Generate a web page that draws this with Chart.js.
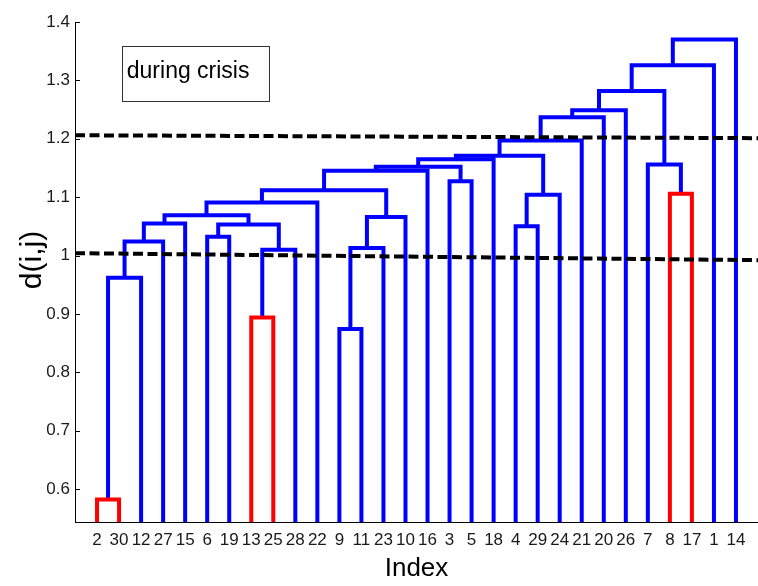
<!DOCTYPE html>
<html>
<head>
<meta charset="utf-8">
<script src="https://cdn.jsdelivr.net/npm/chart.js@4.4.1/dist/chart.umd.min.js"></script>
<style>
html,body{margin:0;padding:0;background:#ffffff;}
#wrap{position:relative;width:758px;height:586px;}
</style>
</head>
<body>
<div id="wrap"><canvas id="c" width="758" height="586"></canvas></div>
<script>
// ---- data ----
const leafLabels = [2,30,12,27,15,6,19,13,25,28,22,9,11,23,10,16,3,5,18,4,29,24,21,20,26,7,8,17,1,14];
const mergeLeft  = ['2','m1','m2','m3','6','13','m6','m5','m4','m9','9','m11','m12','m10','m14','3','m15','m17','4','m19','m18','m21','m22','m23','8','7','m24','m27','m28'];
const mergeRight = ['30','12','27','15','19','25','28','m7','m8','22','11','23','10','m13','16','5','m16','18','29','24','m20','21','20','26','17','m25','m26','1','14'];
const mergeHeight = [0.582,0.962,1.024,1.055,1.032,0.894,1.010,1.053,1.069,1.091,0.874,1.013,1.066,1.112,1.145,1.127,1.152,1.165,1.050,1.104,1.171,1.197,1.237,1.249,1.106,1.156,1.282,1.326,1.370];
const redMerges = ['m1','m6','m25'];
const cutX = [0, 31];
const cutUpperY = [1.206, 1.201];
const cutLowerY = [1.004, 0.992];
const yTickValues = [0.6,0.7,0.8,0.9,1.0,1.1,1.2,1.3,1.4];
const yTickLabels = ['0.6','0.7','0.8','0.9','1','1.1','1.2','1.3','1.4'];
const yRange = [0.5435, 1.4];
const xRange = [0, 31];
const boxText = 'during crisis';
const boxX = [2.13, 8.8];
const boxY = [1.265, 1.359];
const boxTextPos = [2.35, 1.304];

const FONT = "'Liberation Sans Narrow', 'Liberation Sans', Arial, sans-serif";

// ---- build dendrogram segments ----
const pos = {};
leafLabels.forEach((l, i) => { pos[String(l)] = {x: i + 1, y: 0}; });
const datasets = [];
mergeHeight.forEach((h, k) => {
  const L = pos[mergeLeft[k]], R = pos[mergeRight[k]];
  const id = 'm' + (k + 1);
  datasets.push({
    data: [{x: L.x, y: L.y}, {x: L.x, y: h}, {x: R.x, y: h}, {x: R.x, y: R.y}],
    borderColor: redMerges.includes(id) ? '#ff0000' : '#0000ff',
    borderWidth: 4,
    borderJoinStyle: 'miter',
    borderCapStyle: 'butt',
    pointRadius: 0,
    showLine: true,
    fill: false,
    tension: 0,
    clip: 0,
    order: 2
  });
  pos[id] = {x: (L.x + R.x) / 2, y: h};
});
[cutUpperY, cutLowerY].forEach(ys => {
  datasets.push({
    data: cutX.map((x, i) => ({x: x, y: ys[i]})),
    borderColor: '#000000',
    borderWidth: 4,
    borderDash: [10, 4.5],
    borderCapStyle: 'butt',
    pointRadius: 0,
    showLine: true,
    fill: false,
    clip: 0,
    order: 0
  });
});

const extras = {
  id: 'extras',
  afterDraw(chart) {
    const ctx = chart.ctx, xs = chart.scales.x, ys = chart.scales.y, ca = chart.chartArea;
    ctx.save();
    // inward y ticks
    ctx.strokeStyle = '#000'; ctx.lineWidth = 1;
    yTickValues.forEach(v => {
      const y = Math.round(ys.getPixelForValue(v)) + 0.5;
      ctx.beginPath(); ctx.moveTo(ca.left, y); ctx.lineTo(ca.left + 5, y); ctx.stroke();
    });
    // text box
    const x1 = Math.round(xs.getPixelForValue(boxX[0])) + 0.5, x2 = Math.round(xs.getPixelForValue(boxX[1])) + 0.5;
    const y1 = Math.round(ys.getPixelForValue(boxY[1])) + 0.5, y2 = Math.round(ys.getPixelForValue(boxY[0])) + 0.5;
    ctx.fillStyle = '#fff'; ctx.fillRect(x1, y1, x2 - x1, y2 - y1);
    ctx.strokeStyle = '#333'; ctx.lineWidth = 1; ctx.strokeRect(x1, y1, x2 - x1, y2 - y1);
    ctx.fillStyle = '#000'; ctx.font = "23px " + FONT; ctx.textBaseline = 'alphabetic'; ctx.textAlign = 'left';
    ctx.fillText(boxText, xs.getPixelForValue(boxTextPos[0]), ys.getPixelForValue(boxTextPos[1]));
    // y axis title
    ctx.translate(33, 260); ctx.rotate(-Math.PI / 2);
    ctx.font = "30px 'Liberation Sans', Arial, sans-serif"; ctx.textAlign = 'center'; ctx.textBaseline = 'middle';
    ctx.fillText('d(i,j)', 0, 0);
    ctx.restore();
  }
};

new Chart(document.getElementById('c'), {
  type: 'scatter',
  data: {datasets},
  options: {
    responsive: false,
    animation: false,
    events: [],
    layout: {padding: {top: 22, left: 0, right: 0, bottom: 0}},
    plugins: {legend: {display: false}, tooltip: {enabled: false}, title: {display: false}},
    scales: {
      x: {
        type: 'linear', min: xRange[0], max: xRange[1],
        afterFit: s => { s.height = 64; },
        afterBuildTicks: s => { s.ticks = leafLabels.map((_, i) => ({value: i + 1})); },
        grid: {display: false, drawTicks: false},
        border: {display: true, color: '#000', width: 1},
        ticks: {autoSkip: false, maxRotation: 0, padding: 8, color: '#1a1a1a',
                font: {family: FONT, size: 17},
                callback: v => leafLabels[v - 1]},
        title: {display: true, text: 'Index', color: '#000', font: {family: FONT, size: 26}, padding: {top: 0, bottom: 2}}
      },
      y: {
        type: 'linear', min: yRange[0], max: yRange[1],
        afterFit: s => { s.width = 75; },
        afterBuildTicks: s => { s.ticks = yTickValues.map(v => ({value: v})); },
        grid: {display: false, drawTicks: false},
        border: {display: true, color: '#000', width: 1},
        ticks: {padding: 5, color: '#1a1a1a', font: {family: FONT, size: 17},
                callback: v => yTickLabels[yTickValues.indexOf(v)]}
      }
    }
  },
  plugins: [extras]
});
</script>
</body>
</html>
